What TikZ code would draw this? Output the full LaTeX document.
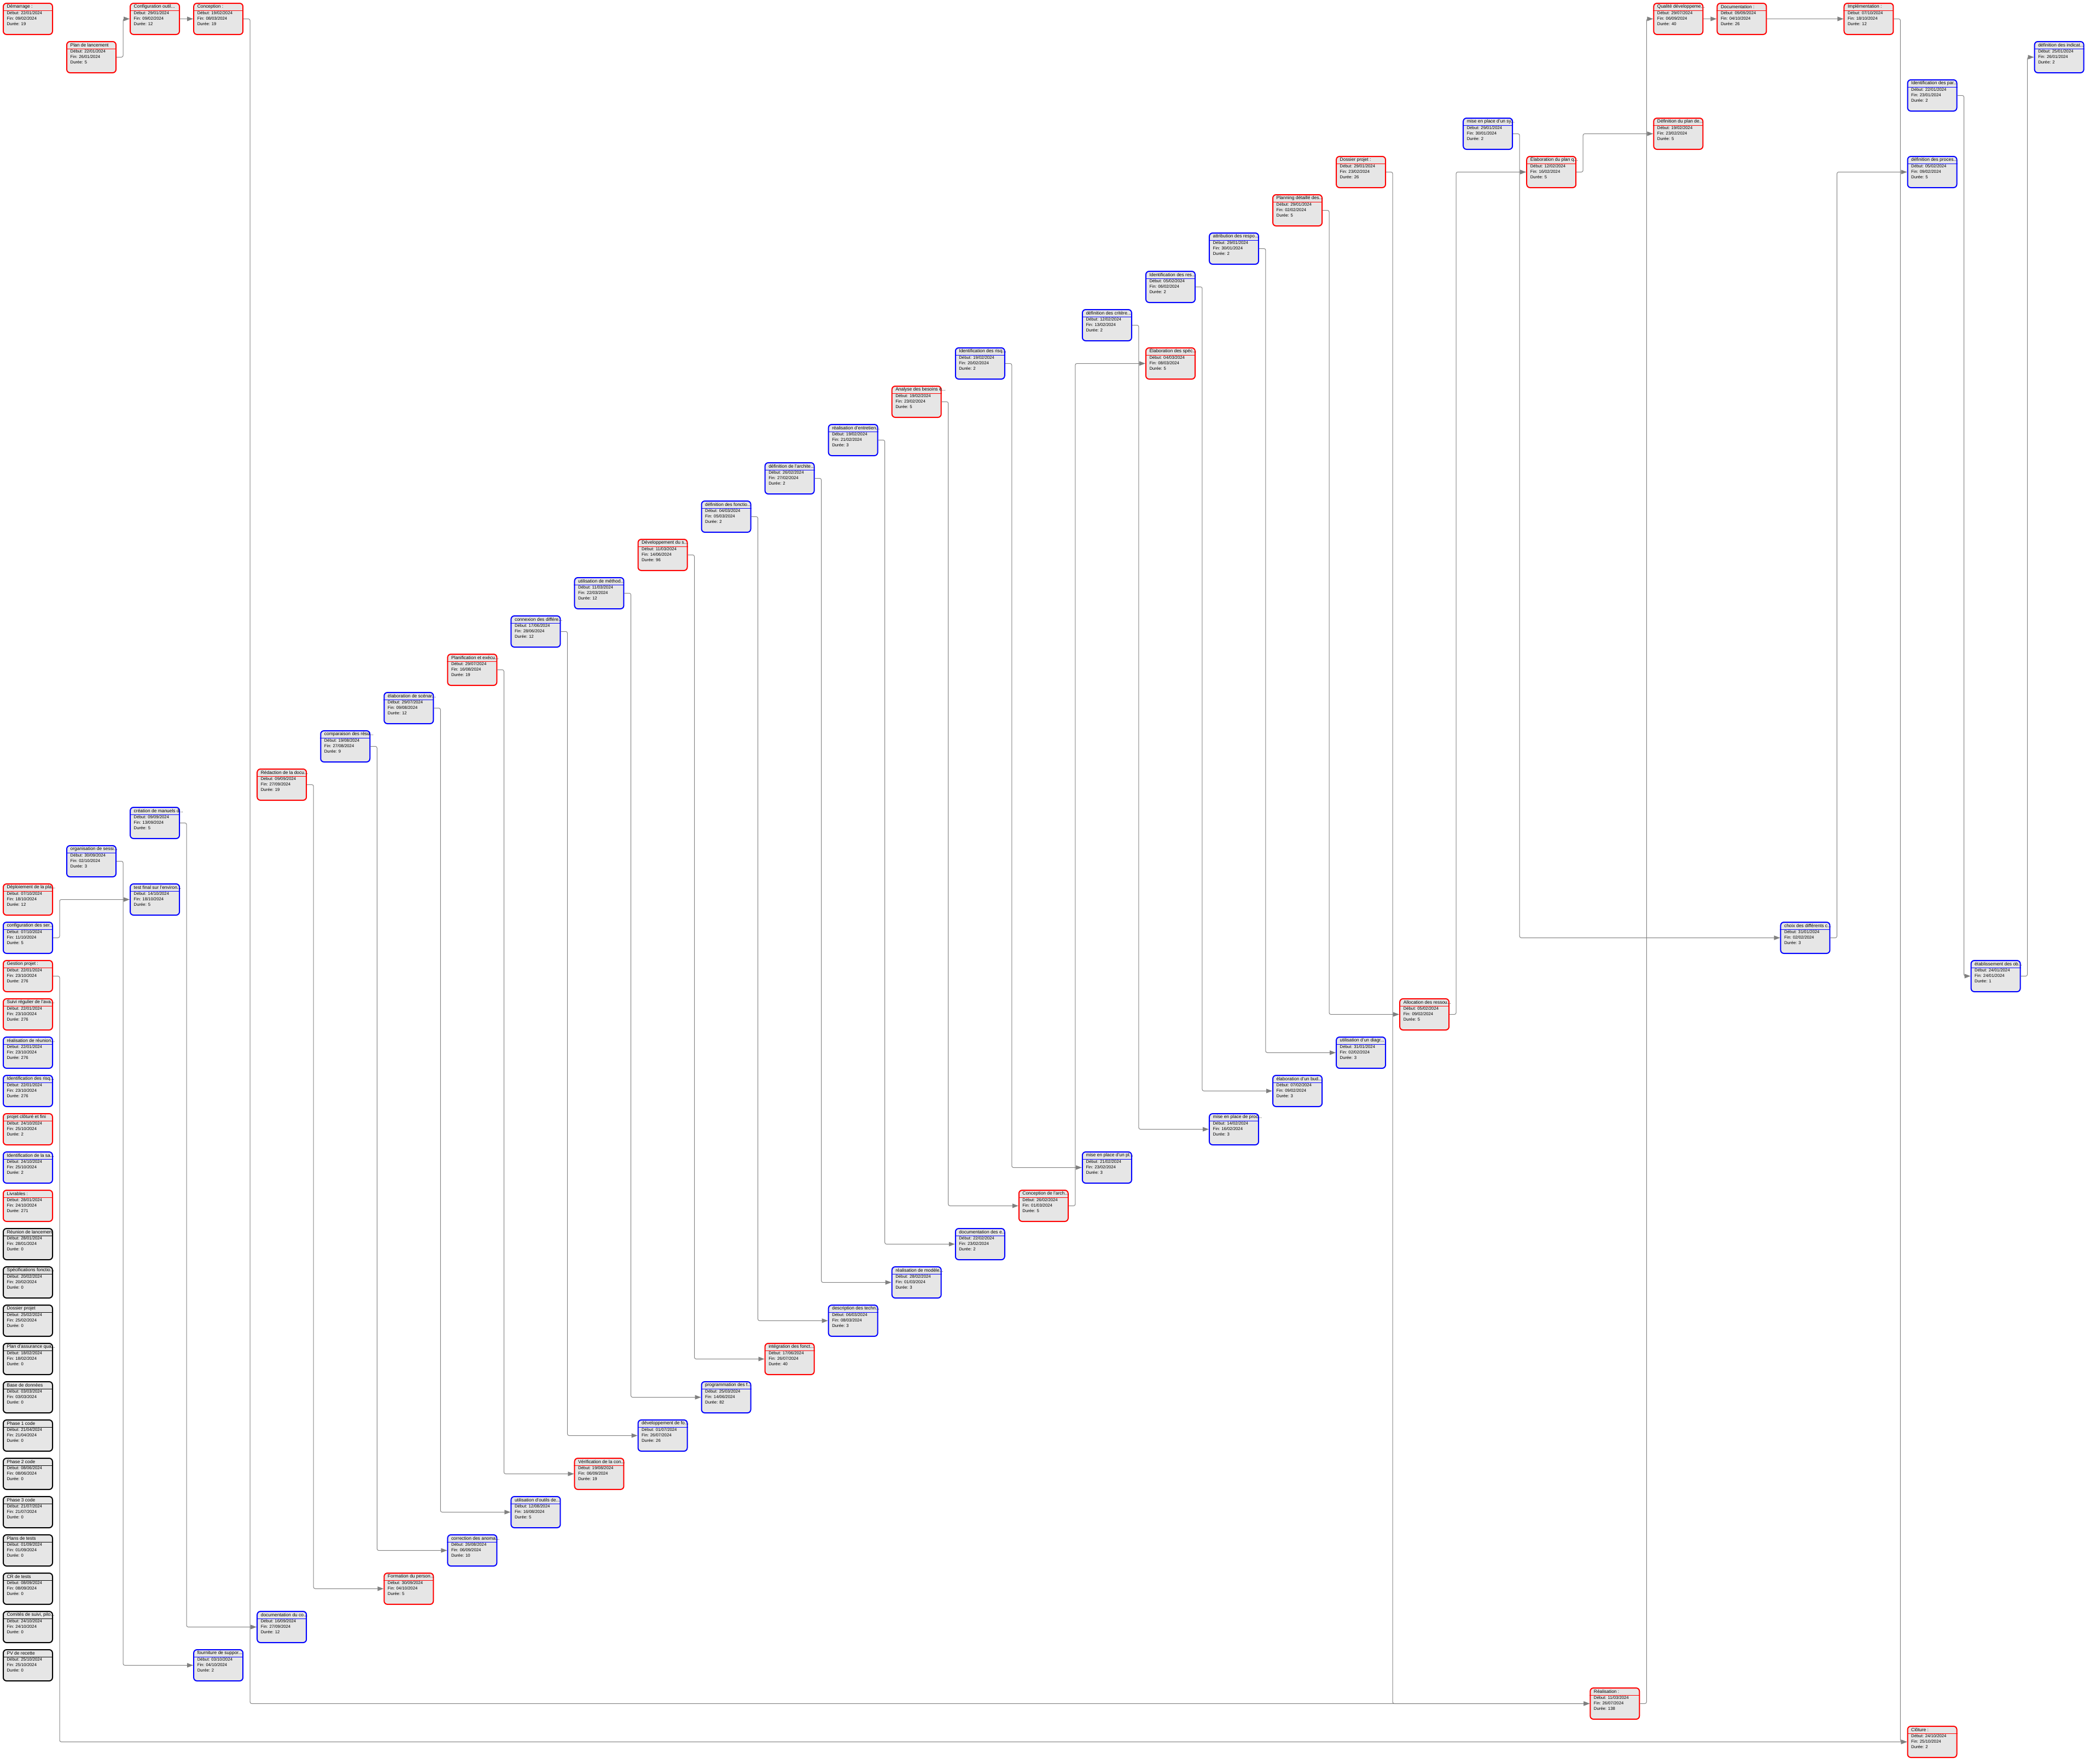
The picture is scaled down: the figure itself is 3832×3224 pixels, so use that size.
\documentclass[tikz,border=0pt]{standalone}
\usepackage{fontspec}
\setmainfont{Liberation Sans}
\usetikzlibrary{calc,arrows.meta}
\definecolor{tacheRouge}{HTML}{FF0000}
\definecolor{tacheBleu}{HTML}{0000FF}
\definecolor{tacheNoir}{HTML}{000000}
\definecolor{tacheFond}{HTML}{E6E6E6}
\definecolor{lienGris}{HTML}{808080}
\tikzset{
  tache/.style={rectangle, anchor=north west, rounded corners=3mm, minimum width=45mm,
    minimum height=28.5mm, inner sep=0pt, fill=tacheFond, line width=1mm},
  titre/.style={anchor=west, inner sep=0pt, font=\fontsize{12}{14}\selectfont},
  ligne/.style={anchor=west, inner sep=0pt, font=\fontsize{11}{13}\selectfont},
  lien/.style={draw=lienGris, line width=0.5mm, rounded corners=1.5mm,
    -{Triangle[length=5.5mm, width=4mm]}},
}
% #1 nom, #2 colonne, #3 ligne, #4 couleur, #5 titre, #6 debut, #7 fin, #8 duree
\newcommand{\tache}[8]{%
  \node[tache, draw=#4] (#1) at ({5+#2*116.05},{5+#3*70}) {};
  \draw[#4, line width=0.5mm] ($(#1.north west)+(0,14)$) -- ($(#1.north east)+(0,14)$);
  \node[titre] (#1-t) at ($(#1.north west)+(7.5,7)$) {#5};
  \node[ligne] (#1-d) at ($(#1.north west)+(7.5,19)$) {Début: #6};
  \node[ligne] (#1-f) at ($(#1.north west)+(7.5,29)$) {Fin: #7};
  \node[ligne] (#1-u) at ($(#1.north west)+(7.5,39)$) {Durée: #8};
}

\begin{document}
\begin{tikzpicture}[x=0.5mm, y=-0.5mm]
  \fill[white] (0,0) rectangle (3832,3224);
  \useasboundingbox (0,0) rectangle (3832,3224);

  \tache{demarrage}{0}{0}{tacheRouge}{Démarrage :}{22/01/2024}{09/02/2024}{19}
  \tache{lancement}{1}{1}{tacheRouge}{Plan de lancement}{22/01/2024}{26/01/2024}{5}
  \tache{outils}{2}{0}{tacheRouge}{Configuration outil...}{29/01/2024}{09/02/2024}{12}
  \tache{conception}{3}{0}{tacheRouge}{Conception :}{19/02/2024}{08/03/2024}{19}

  \tache{qualite}{26}{0}{tacheRouge}{Qualité développeme...}{29/07/2024}{06/09/2024}{40}
  \tache{documentation}{27}{0}{tacheRouge}{Documentation :}{09/09/2024}{04/10/2024}{26}
  \tache{implementation}{29}{0}{tacheRouge}{Implémentation :}{07/10/2024}{18/10/2024}{12}
  \tache{indicateurs}{32}{1}{tacheBleu}{définition des indicat...}{25/01/2024}{26/01/2024}{2}
  \tache{parties}{30}{2}{tacheBleu}{Identification des par...}{22/01/2024}{23/01/2024}{2}
  \tache{systeme}{23}{3}{tacheBleu}{mise en place d'un sy...}{29/01/2024}{30/01/2024}{2}
  \tache{defplan}{26}{3}{tacheRouge}{Définition du plan de...}{19/02/2024}{23/02/2024}{5}
  \tache{elabplan}{24}{4}{tacheRouge}{Élaboration du plan q...}{12/02/2024}{16/02/2024}{5}
  \tache{processus}{30}{4}{tacheBleu}{définition des proces...}{05/02/2024}{09/02/2024}{5}
  \tache{dossier}{21}{4}{tacheRouge}{Dossier projet :}{29/01/2024}{23/02/2024}{26}
  \tache{planning}{20}{5}{tacheRouge}{Planning détaillé des...}{29/01/2024}{02/02/2024}{5}
  \tache{attribution}{19}{6}{tacheBleu}{attribution des respo...}{29/01/2024}{30/01/2024}{2}
  \tache{ressources}{18}{7}{tacheBleu}{Identification des res...}{05/02/2024}{06/02/2024}{2}
  \tache{criteres}{17}{8}{tacheBleu}{définition des critère...}{12/02/2024}{13/02/2024}{2}
  \tache{specs}{18}{9}{tacheRouge}{Élaboration des spéc...}{04/03/2024}{08/03/2024}{5}
  \tache{risques}{15}{9}{tacheBleu}{Identification des risq...}{19/02/2024}{20/02/2024}{2}
  \tache{analyse}{14}{10}{tacheRouge}{Analyse des besoins e...}{19/02/2024}{23/02/2024}{5}
  \tache{entretiens}{13}{11}{tacheBleu}{réalisation d'entretien...}{19/02/2024}{21/02/2024}{3}
  \tache{architecture}{12}{12}{tacheBleu}{définition de l'archite...}{26/02/2024}{27/02/2024}{2}
  \tache{fonctions}{11}{13}{tacheBleu}{définition des fonctio...}{04/03/2024}{05/03/2024}{2}
  \tache{developpement}{10}{14}{tacheRouge}{Développement du s...}{11/03/2024}{14/06/2024}{96}
  \tache{methode}{9}{15}{tacheBleu}{utilisation de méthod...}{11/03/2024}{22/03/2024}{12}
  \tache{connexion}{8}{16}{tacheBleu}{connexion des différe...}{17/06/2024}{28/06/2024}{12}
  \tache{planif}{7}{17}{tacheRouge}{Planification et exécu...}{29/07/2024}{16/08/2024}{19}
  \tache{scenarios}{6}{18}{tacheBleu}{élaboration de scénar...}{29/07/2024}{09/08/2024}{12}
  \tache{comparaison}{5}{19}{tacheBleu}{comparaison des résu...}{19/08/2024}{27/08/2024}{9}
  \tache{redaction}{4}{20}{tacheRouge}{Rédaction de la docu...}{09/09/2024}{27/09/2024}{19}
  \tache{manuels}{2}{21}{tacheBleu}{création de manuels d...}{09/09/2024}{13/09/2024}{5}
  \tache{sessions}{1}{22}{tacheBleu}{organisation de sessi...}{30/09/2024}{02/10/2024}{3}
  \tache{testfinal}{2}{23}{tacheBleu}{test final sur l'environ...}{14/10/2024}{18/10/2024}{5}

  \tache{deploiement}{0}{23}{tacheRouge}{Déploiement de la pla...}{07/10/2024}{18/10/2024}{12}
  \tache{serveurs}{0}{24}{tacheBleu}{configuration des ser...}{07/10/2024}{11/10/2024}{5}
  \tache{gestion}{0}{25}{tacheRouge}{Gestion projet :}{22/01/2024}{23/10/2024}{276}
  \tache{suivi}{0}{26}{tacheRouge}{Suivi régulier de l'ava...}{22/01/2024}{23/10/2024}{276}
  \tache{reunions}{0}{27}{tacheBleu}{réalisation de réunion...}{22/01/2024}{23/10/2024}{276}
  \tache{risquesgp}{0}{28}{tacheBleu}{Identification des risq...}{22/01/2024}{23/10/2024}{276}
  \tache{fini}{0}{29}{tacheRouge}{projet clôturé et fini}{24/10/2024}{25/10/2024}{2}
  \tache{satisfaction}{0}{30}{tacheBleu}{Identification de la sa...}{24/10/2024}{25/10/2024}{2}
  \tache{livrables}{0}{31}{tacheRouge}{Livrables :}{28/01/2024}{24/10/2024}{271}
  \tache{livreunion}{0}{32}{tacheNoir}{Réunion de lancement}{28/01/2024}{28/01/2024}{0}
  \tache{livspecs}{0}{33}{tacheNoir}{Spécifications fonctio...}{20/02/2024}{20/02/2024}{0}
  \tache{livdossier}{0}{34}{tacheNoir}{Dossier projet}{25/02/2024}{25/02/2024}{0}
  \tache{livqualite}{0}{35}{tacheNoir}{Plan d'assurance qua...}{18/02/2024}{18/02/2024}{0}
  \tache{livbase}{0}{36}{tacheNoir}{Base de données}{03/03/2024}{03/03/2024}{0}
  \tache{livphaseA}{0}{37}{tacheNoir}{Phase 1 code}{21/04/2024}{21/04/2024}{0}
  \tache{livphaseB}{0}{38}{tacheNoir}{Phase 2 code}{08/06/2024}{08/06/2024}{0}
  \tache{livphaseC}{0}{39}{tacheNoir}{Phase 3 code}{21/07/2024}{21/07/2024}{0}
  \tache{livplans}{0}{40}{tacheNoir}{Plans de tests}{01/09/2024}{01/09/2024}{0}
  \tache{livcr}{0}{41}{tacheNoir}{CR de tests}{08/09/2024}{08/09/2024}{0}
  \tache{livcomites}{0}{42}{tacheNoir}{Comités de suivi, pilo...}{24/10/2024}{24/10/2024}{0}
  \tache{livpv}{0}{43}{tacheNoir}{PV de recette}{25/10/2024}{25/10/2024}{0}

  \tache{choix}{28}{24}{tacheBleu}{choix des différents c...}{31/01/2024}{02/02/2024}{3}
  \tache{objectifs}{31}{25}{tacheBleu}{établissement des ob...}{24/01/2024}{24/01/2024}{1}
  \tache{allocation}{22}{26}{tacheRouge}{Allocation des ressou...}{05/02/2024}{09/02/2024}{5}
  \tache{diagramme}{21}{27}{tacheBleu}{utilisation d'un diagr...}{31/01/2024}{02/02/2024}{3}
  \tache{budget}{20}{28}{tacheBleu}{élaboration d'un bud...}{07/02/2024}{09/02/2024}{3}
  \tache{procedure}{19}{29}{tacheBleu}{mise en place de proc...}{14/02/2024}{16/02/2024}{3}
  \tache{pilote}{17}{30}{tacheBleu}{mise en place d'un pl...}{21/02/2024}{23/02/2024}{3}
  \tache{concarchi}{16}{31}{tacheRouge}{Conception de l'arch...}{26/02/2024}{01/03/2024}{5}
  \tache{exigences}{15}{32}{tacheBleu}{documentation des e...}{22/02/2024}{23/02/2024}{2}
  \tache{modeles}{14}{33}{tacheBleu}{réalisation de modèle...}{28/02/2024}{01/03/2024}{3}
  \tache{techniques}{13}{34}{tacheBleu}{description des techn...}{06/03/2024}{08/03/2024}{3}
  \tache{integration}{12}{35}{tacheRouge}{intégration des fonct...}{17/06/2024}{26/07/2024}{40}
  \tache{programmation}{11}{36}{tacheBleu}{programmation des f...}{25/03/2024}{14/06/2024}{82}
  \tache{devfonct}{10}{37}{tacheBleu}{développement de fo...}{01/07/2024}{26/07/2024}{26}
  \tache{verification}{9}{38}{tacheRouge}{Vérification de la con...}{19/08/2024}{06/09/2024}{19}
  \tache{outilstest}{8}{39}{tacheBleu}{utilisation d'outils de...}{12/08/2024}{16/08/2024}{5}
  \tache{anomalies}{7}{40}{tacheBleu}{correction des anoma...}{26/08/2024}{06/09/2024}{10}
  \tache{formation}{6}{41}{tacheRouge}{Formation du person...}{30/09/2024}{04/10/2024}{5}
  \tache{doccode}{4}{42}{tacheBleu}{documentation du co...}{16/09/2024}{27/09/2024}{12}
  \tache{support}{3}{43}{tacheBleu}{fourniture de suppor...}{03/10/2024}{04/10/2024}{2}
  \tache{realisation}{25}{44}{tacheRouge}{Réalisation :}{11/03/2024}{26/07/2024}{138}
  \tache{cloture}{30}{45}{tacheRouge}{Clôture :}{24/10/2024}{25/10/2024}{2}

  \draw[lien] (lancement.east) -- ++(12,0) |- (outils.west);
  \draw[lien] (outils.east) -- (conception.west);
  \draw[lien] (conception.east) -- ++(12,0) |- (realisation.west);
  \draw[lien] (dossier.east) -- ++(12,0) |- (realisation.west);
  \draw[lien] (realisation.east) -- ++(12,0) |- (qualite.west);
  \draw[lien] (qualite.east) -- (documentation.west);
  \draw[lien] (documentation.east) -- (implementation.west);
  \draw[lien] (implementation.east) -- ++(12,0) |- (cloture.west);
  \draw[lien] (gestion.east) -- ++(12,0) |- (cloture.west);
  \draw[lien] (serveurs.east) -- ++(12,0) |- (testfinal.west);
  \draw[lien] (manuels.east) -- ++(12,0) |- (doccode.west);
  \draw[lien] (sessions.east) -- ++(12,0) |- (support.west);
  \draw[lien] (redaction.east) -- ++(12,0) |- (formation.west);
  \draw[lien] (comparaison.east) -- ++(12,0) |- (anomalies.west);
  \draw[lien] (scenarios.east) -- ++(12,0) |- (outilstest.west);
  \draw[lien] (planif.east) -- ++(12,0) |- (verification.west);
  \draw[lien] (connexion.east) -- ++(12,0) |- (devfonct.west);
  \draw[lien] (methode.east) -- ++(12,0) |- (programmation.west);
  \draw[lien] (developpement.east) -- ++(12,0) |- (integration.west);
  \draw[lien] (fonctions.east) -- ++(12,0) |- (techniques.west);
  \draw[lien] (architecture.east) -- ++(12,0) |- (modeles.west);
  \draw[lien] (entretiens.east) -- ++(12,0) |- (exigences.west);
  \draw[lien] (analyse.east) -- ++(12,0) |- (concarchi.west);
  \draw[lien] (risques.east) -- ++(12,0) |- (pilote.west);
  \draw[lien] (concarchi.east) -- ++(12,0) |- (specs.west);
  \draw[lien] (criteres.east) -- ++(12,0) |- (procedure.west);
  \draw[lien] (ressources.east) -- ++(12,0) |- (budget.west);
  \draw[lien] (attribution.east) -- ++(12,0) |- (diagramme.west);
  \draw[lien] (planning.east) -- ++(12,0) |- (allocation.west);
  \draw[lien] (allocation.east) -- ++(12,0) |- (elabplan.west);
  \draw[lien] (elabplan.east) -- ++(12,0) |- (defplan.west);
  \draw[lien] (systeme.east) -- ++(12,0) |- (choix.west);
  \draw[lien] (choix.east) -- ++(12,0) |- (processus.west);
  \draw[lien] (parties.east) -- ++(12,0) |- (objectifs.west);
  \draw[lien] (objectifs.east) -- ++(12,0) |- (indicateurs.west);
\end{tikzpicture}
\end{document}
